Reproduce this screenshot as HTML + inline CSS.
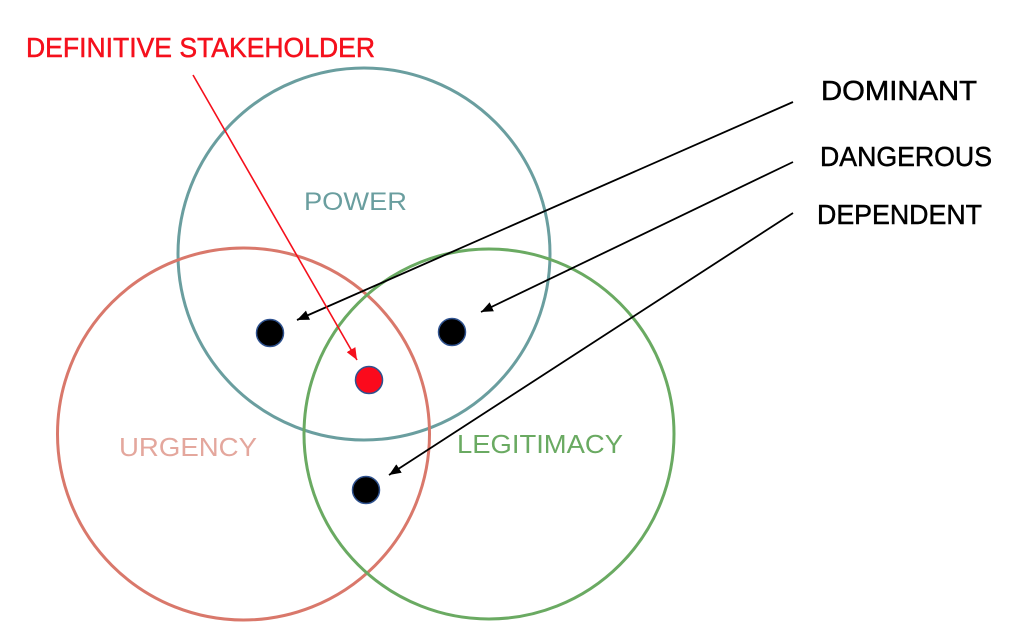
<!DOCTYPE html>
<html><head><meta charset="utf-8"><style>
html,body{margin:0;padding:0;background:#fff;}
svg{display:block;}
</style></head><body>
<svg width="1012" height="636" viewBox="0 0 1012 636" xmlns="http://www.w3.org/2000/svg">
<defs>
<marker id="ab" viewBox="0 0 12 10" refX="12" refY="5" markerWidth="12" markerHeight="10" markerUnits="userSpaceOnUse" orient="auto"><path d="M0,0 L12,5 L0,10 z" fill="#000"/></marker>
<marker id="ar" viewBox="0 0 12 10" refX="12" refY="5" markerWidth="12" markerHeight="10" markerUnits="userSpaceOnUse" orient="auto"><path d="M0,0 L12,5 L0,10 z" fill="#f5101c"/></marker>
</defs>
<rect width="1012" height="636" fill="#fff"/>
<circle cx="364" cy="254" r="186" fill="none" stroke="#6a9e9f" stroke-width="3"/>
<circle cx="243.5" cy="434" r="186" fill="none" stroke="#d9786b" stroke-width="3"/>
<circle cx="489" cy="434" r="185" fill="none" stroke="#6aaa62" stroke-width="3"/>
<g font-family="Liberation Sans, Arial, sans-serif">
<text x="304" y="210" font-size="25" fill="#6a9e9f" textLength="103" lengthAdjust="spacingAndGlyphs">POWER</text>
<text x="119" y="456" font-size="26" fill="#e4a79d" textLength="138" lengthAdjust="spacingAndGlyphs">URGENCY</text>
<text x="457" y="453" font-size="26" fill="#6aaa62" textLength="166" lengthAdjust="spacingAndGlyphs">LEGITIMACY</text>
<text x="26" y="57" font-size="28" fill="#f5101c" stroke="#f5101c" stroke-width="0.5" textLength="349" lengthAdjust="spacingAndGlyphs">DEFINITIVE STAKEHOLDER</text>
<text x="821" y="100" font-size="28" fill="#000" stroke="#000" stroke-width="0.5" textLength="156" lengthAdjust="spacingAndGlyphs">DOMINANT</text>
<text x="820" y="166" font-size="28" fill="#000" stroke="#000" stroke-width="0.5" textLength="172" lengthAdjust="spacingAndGlyphs">DANGEROUS</text>
<text x="817" y="224" font-size="28" fill="#000" stroke="#000" stroke-width="0.5" textLength="165" lengthAdjust="spacingAndGlyphs">DEPENDENT</text>
</g>
<line x1="793" y1="102" x2="297" y2="320" stroke="#000" stroke-width="1.8" marker-end="url(#ab)"/>
<line x1="793" y1="162" x2="481" y2="312" stroke="#000" stroke-width="1.8" marker-end="url(#ab)"/>
<line x1="793" y1="213" x2="389" y2="475" stroke="#000" stroke-width="1.8" marker-end="url(#ab)"/>
<line x1="193" y1="75" x2="357" y2="360" stroke="#f5101c" stroke-width="1.6" marker-end="url(#ar)"/>
<circle cx="270" cy="333" r="13.5" fill="#000" stroke="#2f528f" stroke-width="1.5"/>
<circle cx="452" cy="332" r="13.5" fill="#000" stroke="#2f528f" stroke-width="1.5"/>
<circle cx="369" cy="380" r="13.5" fill="#fb0a1c" stroke="#2f528f" stroke-width="1.5"/>
<circle cx="366" cy="490" r="13.5" fill="#000" stroke="#2f528f" stroke-width="1.5"/>
</svg>
</body></html>
